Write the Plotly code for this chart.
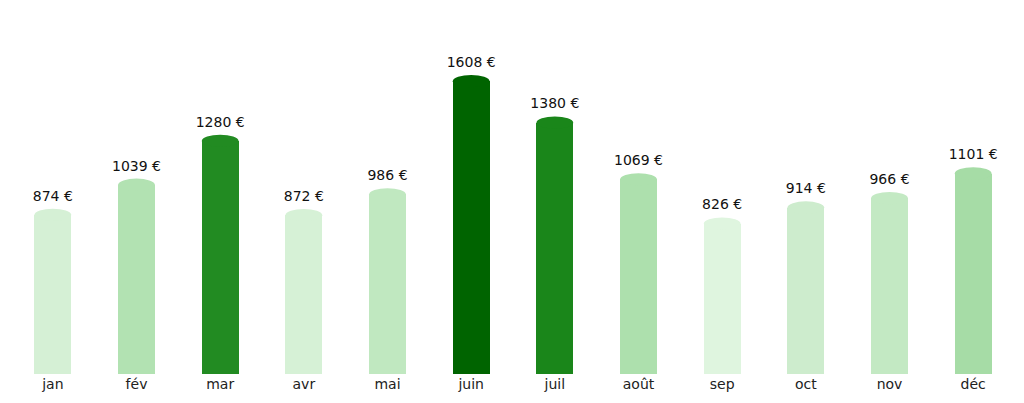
import plotly.graph_objects as go

months = ["jan","fév","mar","avr","mai","juin","juil","août","sep","oct","nov","déc"]
values = [874,1039,1280,872,986,1608,1380,1069,826,914,966,1101]
colors = ["#d5f0d5","#b2e2b2","#228b22","#d6f1d6","#c0e8c0","#006400","#1a861a",
          "#ade0ad","#dff5df","#cdeccd","#c3e9c3","#a6dca6"]

W = 0.44
CAP = 34
fig = go.Figure()
fig.add_trace(go.Bar(x=list(range(12)), y=values, width=W, marker=dict(color=colors, line_width=0),
                     hoverinfo="skip"))
for i, (v, c) in enumerate(zip(values, colors)):
    fig.add_shape(type="circle", xref="x", yref="y", x0=i-W/2, x1=i+W/2, y0=v-CAP, y1=v+CAP,
                  fillcolor=c, line_width=0, layer="above")
fig.add_trace(go.Scatter(x=list(range(12)), y=[v+CAP+25 for v in values], mode="text",
                         text=[f"{v} €" for v in values], textposition="top center",
                         textfont=dict(size=14, color="#111"), hoverinfo="skip"))
fig.update_layout(width=1024, height=403, margin=dict(l=3, r=17, t=20, b=37),
                  plot_bgcolor="white", paper_bgcolor="white", showlegend=False,
                  font=dict(family="DejaVu Sans", size=14, color="#222"), bargap=0)
fig.update_xaxes(range=[-0.5, 11.5], tickvals=list(range(12)), ticktext=months,
                 showgrid=False, zeroline=False, showline=False, ticks="")
fig.update_yaxes(range=[0, 1900], visible=False)
fig.write_html("out.html")
